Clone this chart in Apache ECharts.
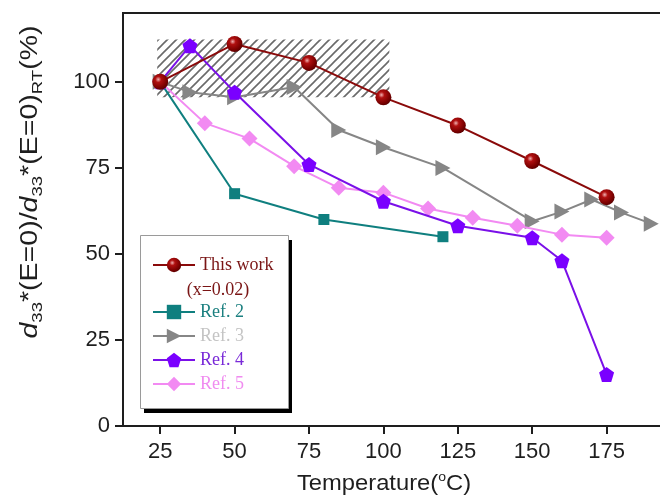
<!DOCTYPE html>
<html>
<head>
<meta charset="utf-8">
<script src="https://cdn.jsdelivr.net/npm/echarts@6/dist/echarts.min.js"></script>
<style>
  html, body { margin: 0; padding: 0; background: #ffffff; }
  #chart { width: 660px; height: 497px; }
</style>
</head>
<body>
<div id="chart"></div>
<script>
// Tick values
const xTicks = [25, 50, 75, 100, 125, 150, 175];
const yTicks = [0, 25, 50, 75, 100];

// Normalised d33* (%) versus temperature (°C)
const thisWork = [[25, 100], [50, 111], [75, 105.5], [100, 95.5], [125, 87.3], [150, 77], [175, 66.5]];
const ref2 = [[25, 100], [50, 67.5], [80, 60], [120, 55]];
const ref3 = [[25, 100], [35, 97], [50, 95.5], [70, 98.5], [85, 86], [100, 81], [120, 75],
              [150, 59.5], [160, 62.3], [170, 65.8], [180, 62], [190, 58.8]];
const ref4 = [[25, 100], [35, 110.5], [50, 97], [75, 76], [100, 65.3], [125, 58.2], [150, 54.7],
              [160, 48], [175, 15]];
const ref5 = [[25, 100], [40, 88], [55, 83.5], [70, 75.5], [85, 69.2], [100, 67.8], [115, 63.2],
              [130, 60.5], [145, 58.2], [160, 55.6], [175, 54.7]];

// Shaded (hatched) stability window
const hatchX = [24, 102];
const hatchY = [95.5, 112.3];

// Diagonal hatch tile used as a repeating fill
function makeHatch() {
  const s = 9;
  const c = document.createElement('canvas');
  c.width = s; c.height = s;
  const ctx = c.getContext('2d');
  ctx.strokeStyle = '#6a6a6a';
  ctx.lineWidth = 1.6;
  ctx.beginPath();
  ctx.moveTo(-1, s + 1); ctx.lineTo(s + 1, -1);
  ctx.moveTo(-s / 2 - 1, s / 2 + 1); ctx.lineTo(s / 2 + 1, -s / 2 - 1);
  ctx.moveTo(s / 2 - 1, s * 1.5 + 1); ctx.lineTo(s * 1.5 + 1, s / 2 - 1);
  ctx.stroke();
  return c;
}

const PENTAGON = 'path://M50,0 L97.6,34.5 L79.4,90.5 L20.6,90.5 L2.4,34.5 Z';
const TRI_RIGHT = 'path://M0,0 L100,50 L0,100 Z';

const sansFont = '"Liberation Sans", Arial, sans-serif';
const serifFont = '"Liberation Serif", "Times New Roman", serif';

const sphere = {
  type: 'radial', x: 0.38, y: 0.35, r: 0.75,
  colorStops: [
    { offset: 0, color: '#f0b0b0' },
    { offset: 0.25, color: '#b01010' },
    { offset: 0.7, color: '#7a0000' },
    { offset: 1, color: '#4a0000' }
  ]
};

const chart = echarts.init(document.getElementById('chart'), null, { renderer: 'canvas' });

const option = {
  animation: false,
  backgroundColor: '#ffffff',
  grid: {
    left: 123, top: 13, width: 558, height: 413,
    outerBoundsMode: 'none', containLabel: false,
    show: true, borderColor: '#1e1e1e', borderWidth: 2, backgroundColor: 'transparent'
  },
  xAxis: {
    type: 'value', min: 12.5, max: 200,
    axisLine: { show: true, lineStyle: { color: '#1e1e1e', width: 2 } },
    axisTick: { show: true, inside: false, length: 8, customValues: xTicks, lineStyle: { color: '#1e1e1e', width: 2 } },
    axisLabel: { customValues: xTicks, margin: 15, color: '#1e1e1e', fontSize: 22, fontFamily: sansFont },
    splitLine: { show: false }
  },
  yAxis: {
    type: 'value', min: 0, max: 120,
    axisLine: { show: true, lineStyle: { color: '#1e1e1e', width: 2 } },
    axisTick: { show: true, inside: false, length: 8, customValues: yTicks, lineStyle: { color: '#1e1e1e', width: 2 } },
    axisLabel: { customValues: yTicks, margin: 13, color: '#1e1e1e', fontSize: 22, fontFamily: sansFont },
    splitLine: { show: false }
  },
  legend: [
    {
      data: [{ name: 'This work', textStyle: { color: '#7a1515' } }],
      left: 152, top: 256, itemWidth: 42, itemHeight: 18, itemGap: 6, padding: 0,
      textStyle: { fontFamily: serifFont, fontSize: 18 }, z: 10
    },
    {
      data: [
        { name: 'Ref. 2', textStyle: { color: '#1c8080' } },
        { name: 'Ref. 3', textStyle: { color: '#c4c4c4' } },
        { name: 'Ref. 4', textStyle: { color: '#7a2ad8' } },
        { name: 'Ref. 5', textStyle: { color: '#f08cf0' } }
      ],
      orient: 'vertical',
      left: 152, top: 303, itemWidth: 42, itemHeight: 18, itemGap: 6, padding: 0,
      textStyle: { fontFamily: serifFont, fontSize: 18 }, z: 10
    }
  ],
  graphic: [
    {
      type: 'rect', z: 4, silent: true,
      shape: { x: 144, y: 240, width: 148, height: 173 },
      style: { fill: '#000000' }
    },
    {
      type: 'rect', z: 5, silent: true,
      shape: { x: 140.5, y: 235.5, width: 148, height: 173 },
      style: { fill: '#ffffff', stroke: '#9a9a9a', lineWidth: 1 }
    },
    {
      type: 'text', z: 11, silent: true, x: 218, y: 290,
      style: { text: '(x=0.02)', fill: '#7a1515', font: '18px ' + serifFont, align: 'center', verticalAlign: 'middle' }
    },
    {
      type: 'text', z: 11, silent: true, x: 384, y: 484, scaleX: 1.08,
      style: {
        text: 'Temperature({sup|o}C)', fill: '#1e1e1e',
        font: '22px ' + sansFont, align: 'center', verticalAlign: 'middle',
        rich: { sup: { fontSize: 13, fontFamily: sansFont, verticalAlign: 'top', lineHeight: 12, fill: '#1e1e1e' } },
        lineHeight: 26
      }
    },
    {
      type: 'text', z: 11, silent: true, x: 31, y: 182, rotation: Math.PI / 2, scaleX: 1.24,
      style: {
        text: '{i|d}{s|33}*(E=0)/{i|d}{s|33}*(E=0){s|RT}(%)', fill: '#1e1e1e',
        font: '23px ' + sansFont, align: 'center', verticalAlign: 'middle', lineHeight: 28,
        rich: {
          i: { fontStyle: 'italic', fontSize: 23, fontFamily: sansFont, lineHeight: 28, fill: '#1e1e1e' },
          s: { fontSize: 15, fontFamily: sansFont, verticalAlign: 'bottom', lineHeight: 15, fill: '#1e1e1e' }
        }
      }
    }
  ],
  series: [
    {
      name: 'Ref. 2', type: 'line', data: ref2, z: 2,
      symbol: 'rect', symbolSize: 11,
      lineStyle: { color: '#0f7f7f', width: 2 },
      itemStyle: { color: '#0f7f7f' },
      markArea: {
        silent: true,
        itemStyle: { color: { image: makeHatch(), repeat: 'repeat' } },
        data: [[{ coord: [hatchX[0], hatchY[1]] }, { coord: [hatchX[1], hatchY[0]] }]]
      }
    },
    {
      name: 'Ref. 3', type: 'line', data: ref3, z: 3,
      symbol: TRI_RIGHT, symbolSize: [15, 16],
      lineStyle: { color: '#868686', width: 2 },
      itemStyle: { color: '#868686' }
    },
    {
      name: 'Ref. 5', type: 'line', data: ref5, z: 4,
      symbol: 'diamond', symbolSize: 16,
      lineStyle: { color: '#f28af2', width: 2 },
      itemStyle: { color: '#f28af2' }
    },
    {
      name: 'Ref. 4', type: 'line', data: ref4, z: 5,
      symbol: PENTAGON, symbolSize: 15,
      lineStyle: { color: '#7a10e8', width: 2 },
      itemStyle: { color: '#7a00ff' }
    },
    {
      name: 'This work', type: 'line', data: thisWork, z: 6,
      symbol: 'circle', symbolSize: 16,
      lineStyle: { color: '#8a0a0a', width: 2 },
      itemStyle: { color: sphere }
    }
  ]
};

chart.setOption(option);
</script>
</body>
</html>
